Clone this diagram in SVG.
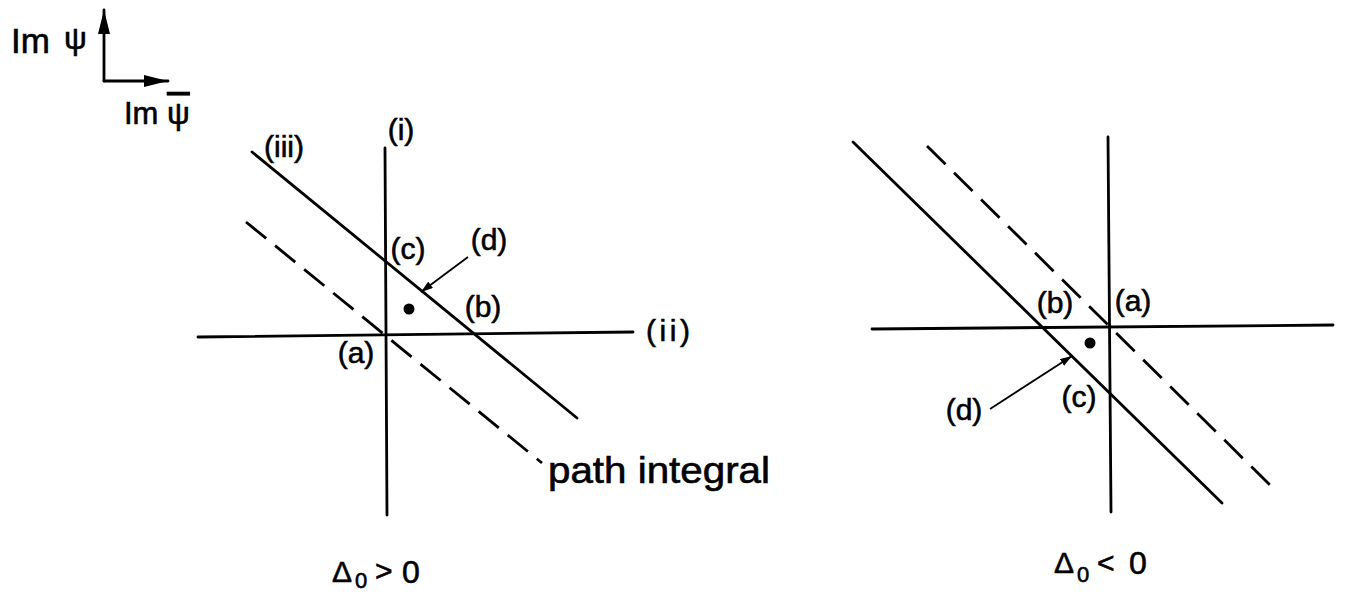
<svg xmlns="http://www.w3.org/2000/svg" width="1345" height="596" viewBox="0 0 1345 596">
<style>
.ln{stroke:#000;stroke-width:2.8;fill:none;stroke-linecap:round}
.ds{stroke:#000;stroke-width:2.8;fill:none;stroke-dasharray:26 11.5}
.ds2{stroke:#000;stroke-width:2.8;fill:none;stroke-dasharray:26 12}
.th{stroke:#000;stroke-width:1.8;fill:none}
.lb{font-family:"Liberation Sans","DejaVu Sans",sans-serif;font-size:30px;fill:#000;stroke:#000;stroke-width:0.6;text-anchor:middle}
.tx{font-family:"Liberation Sans","DejaVu Sans",sans-serif;fill:#000;stroke:#000;stroke-width:0.6}
</style>
<defs>
<marker id="axhead" viewBox="0 0 24 12" refX="24" refY="6" markerWidth="24" markerHeight="12" orient="auto" markerUnits="userSpaceOnUse"><path d="M0,0 L24,6 L0,12 Z" fill="#000"/></marker>
<marker id="dhead" viewBox="0 0 12 8" refX="12" refY="4" markerWidth="12" markerHeight="8" orient="auto" markerUnits="userSpaceOnUse"><path d="M0,0 L12,4 L0,8 Z" fill="#000"/></marker>
</defs>
<rect width="1345" height="596" fill="#fff"/>

<g id="axes-legend">
<line class="ln" x1="104" y1="81" x2="104" y2="10" marker-end="url(#axhead)"/>
<line class="ln" x1="104" y1="81" x2="168" y2="81" marker-end="url(#axhead)"/>
<text class="tx" x="11" y="53" font-size="35">Im</text>
<text class="tx" x="64" y="49" font-size="32">ψ</text>
<text class="tx" x="124" y="124" font-size="31">Im</text>
<text class="tx" x="167" y="124" font-size="32" text-decoration="overline">ψ</text>
</g>

<g id="left-diagram">
<line class="ln" x1="385" y1="148" x2="387" y2="515"/>
<line class="ln" x1="198" y1="337" x2="633" y2="332"/>
<line class="ln" x1="252" y1="152" x2="577" y2="418"/>
<line class="ds" x1="246" y1="222" x2="542" y2="463"/>
<circle cx="409" cy="309" r="5.5" fill="#000"/>
<text class="lb" x="401" y="140">(i)</text>
<text class="lb" x="284" y="157">(iii)</text>
<text class="lb" x="408" y="259">(c)</text>
<text class="lb" x="489" y="250">(d)</text>
<text class="lb" x="483" y="317">(b)</text>
<text class="lb" x="356" y="363">(a)</text>
<text class="lb" x="668" y="341" textLength="44" lengthAdjust="spacing">(ii)</text>
<text class="tx" x="548" y="483" font-size="36" textLength="222" lengthAdjust="spacingAndGlyphs">path integral</text>
<text class="tx" y="582"><tspan x="332" font-size="30">Δ</tspan><tspan x="355" y="588" font-size="22">0</tspan><tspan x="375" y="581" font-size="30">&gt;</tspan><tspan x="402" y="583" font-size="32">0</tspan></text>
</g>

<g id="right-diagram">
<line class="ln" x1="1108" y1="137" x2="1111" y2="512"/>
<line class="ln" x1="872" y1="329" x2="1333" y2="325"/>
<line class="ln" x1="853" y1="142" x2="1222" y2="503"/>
<line class="ds2" x1="927" y1="146" x2="1277" y2="492"/>
<circle cx="1090" cy="343" r="5.5" fill="#000"/>
<text class="lb" x="1055" y="313">(b)</text>
<text class="lb" x="1133" y="311">(a)</text>
<text class="lb" x="1079" y="407">(c)</text>
<text class="lb" x="964" y="420">(d)</text>
<text class="tx" y="573"><tspan x="1054" font-size="30">Δ</tspan><tspan x="1077" y="582" font-size="22">0</tspan><tspan x="1097" y="573" font-size="30">&lt;</tspan><tspan x="1129" y="574" font-size="32">0</tspan></text>
</g>

<g id="connectors">
<line class="th" x1="468" y1="257" x2="421" y2="292" marker-end="url(#dhead)"/>
<line class="th" x1="990" y1="409" x2="1072" y2="356" marker-end="url(#dhead)"/>
</g>
</svg>
